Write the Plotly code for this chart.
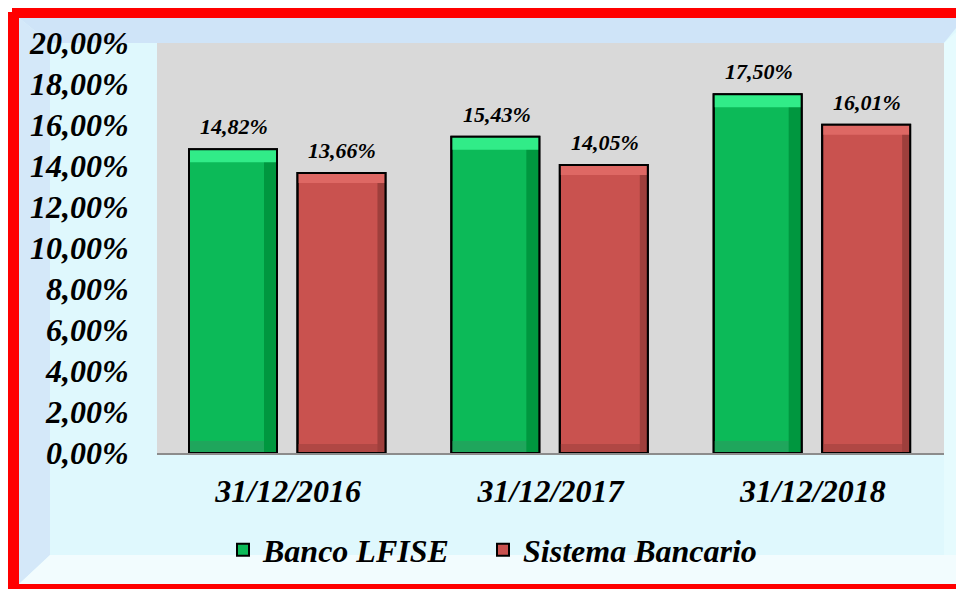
import plotly.graph_objects as go

categories = ["31/12/2016", "31/12/2017", "31/12/2018"]
banco = [0.1482, 0.1543, 0.1750]
sistema = [0.1366, 0.1405, 0.1601]
series_names = ["Banco LFISE", "Sistema Bancario"]

# page body has an 8px margin: figure sits at screen (8, 8)
OFF = 8
W, H = 964 - OFF, 589 - OFF
PL, PR, PT, PB = 157, 944, 43, 453          # plot area in screen px
L, R, T, B = PL - OFF, W + OFF - PR, PT - OFF, H + OFF - PB
YMAX = 0.2
CAT_PX = (PR - PL) / len(categories)
YPX = YMAX / (PB - PT)                      # data units per pixel

def px(x):
    return (x - PL) / (PR - PL)

def py(y):
    return (PB - y) / (PB - PT)

font_b = dict(family="Liberation Serif", color="black", size=32, weight="bold", style="italic")
font_lab = dict(family="Liberation Serif", color="black", size=22, weight="bold", style="italic")

BAR_W = 88 / CAT_PX
series = [
    dict(name=series_names[0], vals=banco, offset=-0.378, main="#0CBA58", legend="legend",
         top="#31EC88", right="#00973F", bottom="#1FA65C", t=13, r=13, b=12, shift=-54),
    dict(name=series_names[1], vals=sistema, offset=0.0355, main="#C9524F", legend="legend2",
         top="#DE6864", right="#9E3F3C", bottom="#B04744", t=10, r=8, b=9, shift=54),
]

fig = go.Figure()
for s in series:
    v = s["vals"]
    fig.add_trace(go.Bar(
        x=categories, y=v, name=s["name"], offset=s["offset"], width=BAR_W, legend=s["legend"],
        marker=dict(color=s["main"], line=dict(color="black", width=2)),
    ))
    fig.add_trace(go.Bar(
        x=categories, y=[s["b"] * YPX] * len(v), base=0, offset=s["offset"], width=BAR_W,
        marker=dict(color=s["bottom"], line=dict(width=0)), showlegend=False, hoverinfo="skip",
    ))
    fig.add_trace(go.Bar(
        x=categories, y=v, offset=s["offset"] + BAR_W - s["r"] / CAT_PX, width=s["r"] / CAT_PX,
        marker=dict(color=s["right"], line=dict(width=0)), showlegend=False, hoverinfo="skip",
    ))
    fig.add_trace(go.Bar(
        x=categories, y=[s["t"] * YPX] * len(v), base=[x - s["t"] * YPX for x in v],
        offset=s["offset"], width=BAR_W,
        marker=dict(color=s["top"], line=dict(width=0)), showlegend=False, hoverinfo="skip",
    ))
    fig.add_trace(go.Bar(
        x=categories, y=v, offset=s["offset"], width=BAR_W,
        marker=dict(color="rgba(0,0,0,0)", line=dict(color="black", width=2)),
        showlegend=False, hoverinfo="skip",
    ))

annotations = []
for s in series:
    for c, v in zip(categories, s["vals"]):
        annotations.append(dict(
            x=c, y=v, xref="x", yref="y", text=f"{v*100:.2f}%".replace(".", ","),
            showarrow=False, xshift=s["shift"], yshift=8, yanchor="bottom", font=font_lab,
        ))

def rect(x0, y0, x1, y1, color, layer="below"):
    return dict(type="rect", xref="paper", yref="paper", x0=px(x0), x1=px(x1),
                y0=py(y0), y1=py(y1), fillcolor=color, line=dict(width=0), layer=layer)

def poly(pts, color):
    d = "M " + " L ".join(f"{px(a)},{py(b)}" for a, b in pts) + " Z"
    return dict(type="path", xref="paper", yref="paper", path=d,
                fillcolor=color, line=dict(width=0), layer="below")

shapes = [
    rect(13, 12, 964, 589, "#DFF8FD"),
    poly([(19, 18), (964, 18), (944, 43), (50, 43)], "#CFE4F8"),
    poly([(19, 18), (50, 43), (50, 555), (19, 584)], "#D4E8F9"),
    poly([(944, 43), (964, 25), (964, 555), (944, 555)], "#E6FBFE"),
    poly([(19, 584), (50, 555), (964, 555), (964, 584)], "#F2FCFE"),
    rect(PL, PT, PR, PB, "#D9D9D9"),
    # red frame: top, left, bottom
    rect(12, 7, 964, 18, "#FF0000", "above"),
    rect(8, 12, 19, 589, "#FF0000", "above"),
    rect(8, 584, 964, 589, "#FF0000", "above"),
]

leg_common = dict(orientation="h", yanchor="middle", xanchor="left", y=py(550),
                  font=font_b, bgcolor="rgba(0,0,0,0)", itemwidth=30)

fig.update_layout(
    width=W, height=H,
    margin=dict(l=L, r=R, t=T, b=B),
    paper_bgcolor="white",
    plot_bgcolor="rgba(0,0,0,0)",
    separators=",.",
    barmode="overlay",
    showlegend=True,
    legend=dict(x=px(223), **leg_common),
    legend2=dict(x=px(483), **leg_common),
    shapes=shapes,
    annotations=annotations,
    xaxis=dict(showgrid=False, showline=True, linecolor="#8C8C8C", linewidth=2,
               tickfont=font_b, ticks="outside", ticklen=0, ticklabelstandoff=9),
    yaxis=dict(range=[0, YMAX], dtick=0.02, tickformat=".2%", showgrid=False, zeroline=False,
               showline=False, tickfont=font_b, ticks="outside", ticklen=0, ticklabelstandoff=21),
)

fig.write_html("out.html", config={"responsive": False})
